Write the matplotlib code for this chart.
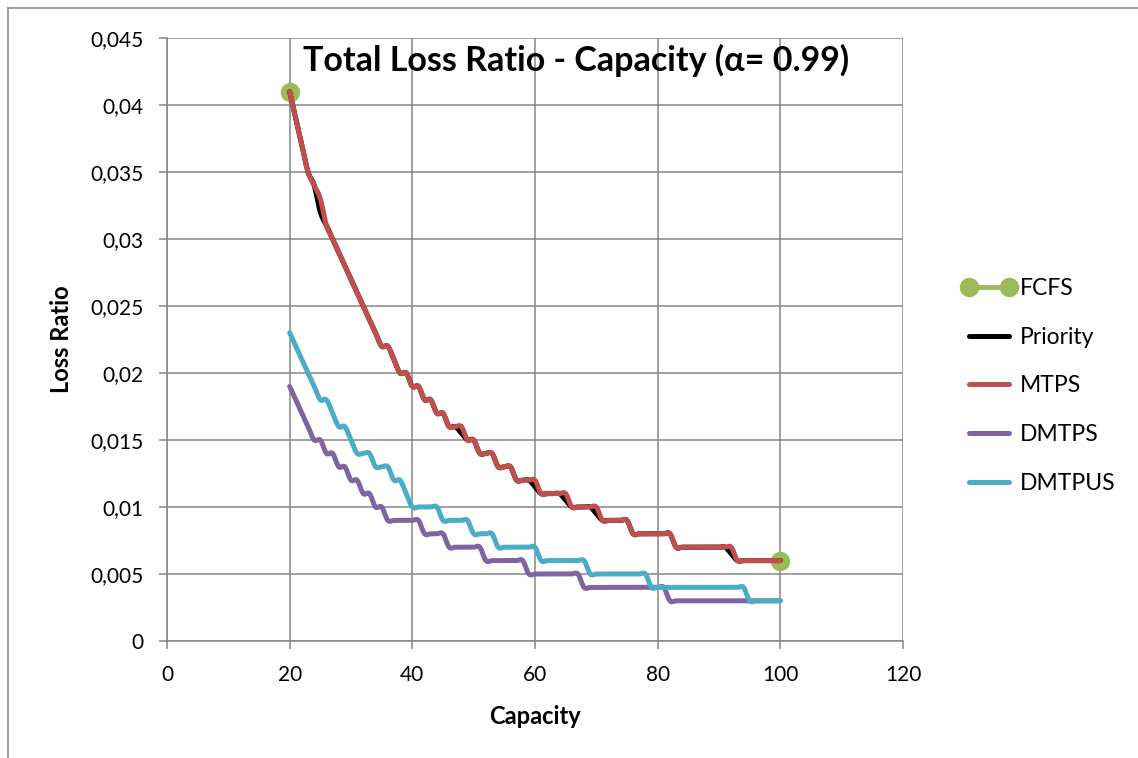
import numpy as np
import matplotlib
matplotlib.use("Agg")
import matplotlib.pyplot as plt
from matplotlib.lines import Line2D

plt.rcParams['font.family'] = ['Lato', 'DejaVu Sans']

# ── data (loss ratio in units of 1e-3, capacity 20..100) ────────────────────
capacity = np.arange(20, 101)

mtps = [41, 39, 37, 35, 34, 33, 31, 30, 29, 28,
        27, 26, 25, 24, 23, 22, 22, 21, 20, 20,
        19, 19, 18, 18, 17, 17, 16, 16, 16, 15,
        15, 14, 14, 14, 13, 13, 13, 12, 12, 12,
        12, 11, 11, 11, 11, 11, 10, 10, 10, 10,
        10, 9, 9, 9, 9, 9, 8, 8, 8, 8,
        8, 8, 8, 7, 7, 7, 7, 7, 7, 7,
        7, 7, 7, 6, 6, 6, 6, 6, 6, 6, 6]

priority = [41, 39, 37, 35, 34, 32, 31, 30, 29, 28,
            27, 26, 25, 24, 23, 22, 22, 21, 20, 20,
            19, 19, 18, 18, 17, 17, 16, 16, 15.5, 15,
            15, 14, 14, 14, 13, 13, 13, 12, 12, 12,
            11.5, 11, 11, 11, 11, 10.5, 10, 10, 10, 10,
            9.5, 9, 9, 9, 9, 9, 8, 8, 8, 8,
            8, 8, 8, 7, 7, 7, 7, 7, 7, 7,
            7, 7, 6.5, 6, 6, 6, 6, 6, 6, 6, 6]

dmtps = [19, 18, 17, 16, 15, 15, 14, 14, 13, 13,
         12, 12, 11, 11, 10, 10, 9, 9, 9, 9,
         9, 9, 8, 8, 8, 8, 7, 7, 7, 7,
         7, 7, 6, 6, 6, 6, 6, 6, 6, 5,
         5, 5, 5, 5, 5, 5, 5, 5, 4, 4,
         4, 4, 4, 4, 4, 4, 4, 4, 4, 4,
         4, 4, 3, 3, 3, 3, 3, 3, 3, 3,
         3, 3, 3, 3, 3, 3, 3, 3, 3, 3, 3]

dmtpus = [23, 22, 21, 20, 19, 18, 18, 17, 16, 16,
          15, 14, 14, 14, 13, 13, 13, 12, 12, 11,
          10, 10, 10, 10, 10, 9, 9, 9, 9, 9,
          8, 8, 8, 8, 7, 7, 7, 7, 7, 7,
          7, 6, 6, 6, 6, 6, 6, 6, 6, 5,
          5, 5, 5, 5, 5, 5, 5, 5, 5, 4,
          4, 4, 4, 4, 4, 4, 4, 4, 4, 4,
          4, 4, 4, 4, 4, 3, 3, 3, 3, 3, 3]

fcfs_x = [20, 100]
fcfs_y = [0.041, 0.006]

series = [('Priority', priority, '#000000'),
          ('MTPS', mtps, '#C0504D'),
          ('DMTPS', dmtps, '#8064A2'),
          ('DMTPUS', dmtpus, '#4BACC6')]
FCFS_COLOR = '#9BBB59'
GRID = '#868686'


def smooth(x, y, n=16):
    """Excel-style smoothed line (cubic Bezier, Catmull-Rom tangents)."""
    p = np.column_stack([x, y]).astype(float)
    pad = np.vstack([p[0], p, p[-1]])
    t = np.linspace(0, 1, n)[:, None]
    out = []
    for i in range(len(p) - 1):
        p0, p3 = p[i], p[i + 1]
        c1 = p0 + (pad[i + 2] - pad[i]) / 6
        c2 = p3 - (pad[i + 3] - pad[i + 1]) / 6
        seg = ((1 - t) ** 3 * p0 + 3 * (1 - t) ** 2 * t * c1
               + 3 * (1 - t) * t ** 2 * c2 + t ** 3 * p3)
        out.append(seg if i == 0 else seg[1:])
    out = np.vstack(out)
    return out[:, 0], out[:, 1]


fig = plt.figure(figsize=(11.38, 7.58), dpi=100)
ax = fig.add_axes([167 / 1138, 1 - 641 / 758, (903 - 167) / 1138, (641 - 38) / 758])

# outer chart border
fig.add_artist(Line2D([8 / 1138, 1.0], [1 - 8 / 758] * 2, color=GRID, lw=1.1))
fig.add_artist(Line2D([8 / 1138] * 2, [0.0, 1 - 8 / 758], color=GRID, lw=1.1))

# FCFS markers (drawn first, underneath)
ax.plot(fcfs_x, fcfs_y, 'o', color=FCFS_COLOR, ms=13, zorder=2)

handles = [Line2D([], [], color=FCFS_COLOR, lw=3.5, marker='o', ms=13)]
for name, vals, col in series:
    sx, sy = smooth(capacity, np.array(vals) / 1000.0)
    ax.plot(sx, sy, color=col, lw=3.6, solid_capstyle='round', zorder=3)
    handles.append(Line2D([], [], color=col, lw=3.6, solid_capstyle='round'))

ax.set_xlim(0, 120)
ax.set_ylim(0, 0.045)
ax.set_xticks(np.arange(0, 121, 20))
ax.set_yticks(np.arange(0, 0.0451, 0.005))
ax.set_yticklabels(['0' if v == 0 else f'{v:.3f}'.rstrip('0').replace('.', ',')
                    for v in np.arange(0, 0.0451, 0.005)])
ax.grid(True, color=GRID, lw=1.1)
ax.set_axisbelow(True)
for s in ['top', 'right']:
    ax.spines[s].set_visible(False)
for s in ['left', 'bottom']:
    ax.spines[s].set_color(GRID)
    ax.spines[s].set_linewidth(1.1)
ax.tick_params(direction='out', length=6, width=1.1, color=GRID,
               labelsize=15, pad=11)

ax.set_xlabel('Capacity', fontsize=17, fontweight='bold', labelpad=15)
ax.set_ylabel('Loss Ratio', fontsize=17, fontweight='bold', labelpad=12)

fig.text(576 / 1138, 1 - 60 / 758, 'Total Loss Ratio - Capacity (α= 0.99)',
         fontsize=24.5, fontweight='bold', ha='center', va='center')

fig.legend(handles, ['FCFS', 'Priority', 'MTPS', 'DMTPS', 'DMTPUS'],
           loc='center left', bbox_to_anchor=(962 / 1138, 1 - 386 / 758),
           frameon=False, fontsize=16.5, handlelength=2.36, handletextpad=0.17,
           labelspacing=1.22, borderpad=0, borderaxespad=0, numpoints=2)

fig.savefig('out.png', dpi=100)
